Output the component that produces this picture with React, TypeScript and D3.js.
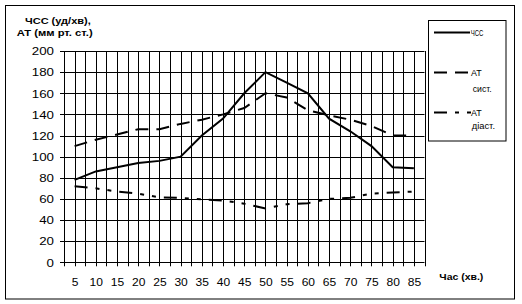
import React from "react";
import * as d3 from "d3";

const categories = ["5","10","15","20","25","30","35","40","45","50","55","60","65","70","75","80","85"];
const hrValues = [78,86,90,94,96,100,120,136,160,180,170,160,136,124,110,90,89];
const sysValues = [110,116,121,126,126,131,135,140,146,160,156,144,139,135,129,120,120];
const diaValues = [72,70,67,65,61.5,61,59.5,58.5,55.5,51,55,56,60,61,65,66,67];
const yTicks = [0,20,40,60,80,100,120,140,160,180,200];
const seriesNames = ["ЧСС", "АТ сист.", "АТ діаст."];

const FONT = "'Liberation Sans', Arial, sans-serif";

export default function App() {
  const W = 522, H = 304;
  const left = 64, right = 424.5, top = 51, bottom = 262.3;
  const x = d3.scaleBand<string>().domain(categories).range([left, right]).padding(0);
  const bw = x.bandwidth();
  const cx = (c: string) => (x(c) as number) + bw / 2;
  const y = d3.scaleLinear().domain([0, 200]).range([bottom, top]);

  const vLines: number[] = [];
  categories.forEach((c) => { vLines.push(x(c) as number); vLines.push(cx(c)); });
  vLines.push(right);

  const mk = (vals: number[]) =>
    d3.line<number>().x((_, i) => cx(categories[i])).y((v) => y(v))(vals) as string;

  const r = (v: number) => Math.round(v) + 0.5;

  const series = [
    { name: seriesNames[0], vals: hrValues, dash: undefined as string | undefined },
    { name: seriesNames[1], vals: sysValues, dash: "13,8" },
    { name: seriesNames[2], vals: diaValues, dash: "13,8,4,8,4,8" },
  ];

  return (
    <svg width={W} height={H} style={{ position: "absolute", left: 0, top: 0 }} fontFamily={FONT}>
      <rect x={0} y={0} width={W} height={H} fill="#fff" />
      <rect x={5.5} y={5.5} width={509} height={293.5} fill="none" stroke="#000" strokeWidth={1} />

      {/* title */}
      <text x={25} y={24} fontSize={9.5} fontWeight="bold" textLength={65.7} lengthAdjust="spacingAndGlyphs">ЧСС (уд/хв),</text>
      <text x={16.7} y={35.7} fontSize={9.5} fontWeight="bold" textLength={76} lengthAdjust="spacingAndGlyphs">АТ (мм рт. ст.)</text>

      {/* gridlines */}
      {yTicks.map((t) => (
        <line key={"h" + t} x1={left - 4} x2={right} y1={r(y(t))} y2={r(y(t))} stroke="#000" strokeWidth={1} />
      ))}
      {vLines.map((v, i) => (
        <line key={"v" + i} x1={r(v)} x2={r(v)} y1={top} y2={bottom + 4} stroke="#000" strokeWidth={1} />
      ))}

      {/* y labels */}
      {yTicks.map((t) => {
        const s = String(t);
        const w = s.length * 7.4;
        return (
          <text key={"yl" + t} x={54 - w} y={y(t) + 4.3} fontSize={11} textLength={w} lengthAdjust="spacingAndGlyphs">{s}</text>
        );
      })}

      {/* x labels */}
      {categories.map((c) => {
        const w = c.length * 6.7;
        return (
          <text key={"xl" + c} x={cx(c) - w / 2 + 0.5} y={286} fontSize={11} textLength={w} lengthAdjust="spacingAndGlyphs">{c}</text>
        );
      })}
      <text x={439.3} y={280} fontSize={9.5} fontWeight="bold" textLength={44} lengthAdjust="spacingAndGlyphs">Час (хв.)</text>

      {/* series */}
      {series.map((s) => (
        <path key={s.name} d={mk(s.vals)} fill="none" stroke="#000" strokeWidth={2} strokeDasharray={s.dash} />
      ))}

      {/* legend */}
      <rect x={428.5} y={20.5} width={77.5} height={120.5} fill="#fff" stroke="#000" strokeWidth={1} />
      <line x1={434} x2={470} y1={32.5} y2={32.5} stroke="#000" strokeWidth={2} />
      <text x={470.7} y={35.7} fontSize={9} textLength={12.7} lengthAdjust="spacingAndGlyphs">ЧСС</text>
      <line x1={434} x2={470} y1={72.5} y2={72.5} stroke="#000" strokeWidth={2} strokeDasharray={series[1].dash} />
      <text x={471} y={76} fontSize={9} textLength={10.7} lengthAdjust="spacingAndGlyphs">АТ</text>
      <text x={472.7} y={91.7} fontSize={9} textLength={19} lengthAdjust="spacingAndGlyphs">сист.</text>
      <line x1={434} x2={471} y1={112.5} y2={112.5} stroke="#000" strokeWidth={2} strokeDasharray={series[2].dash} />
      <text x={471} y={115.7} fontSize={9} textLength={10.7} lengthAdjust="spacingAndGlyphs">АТ</text>
      <text x={471.7} y={129} fontSize={9} textLength={23.3} lengthAdjust="spacingAndGlyphs">діаст.</text>
    </svg>
  );
}
